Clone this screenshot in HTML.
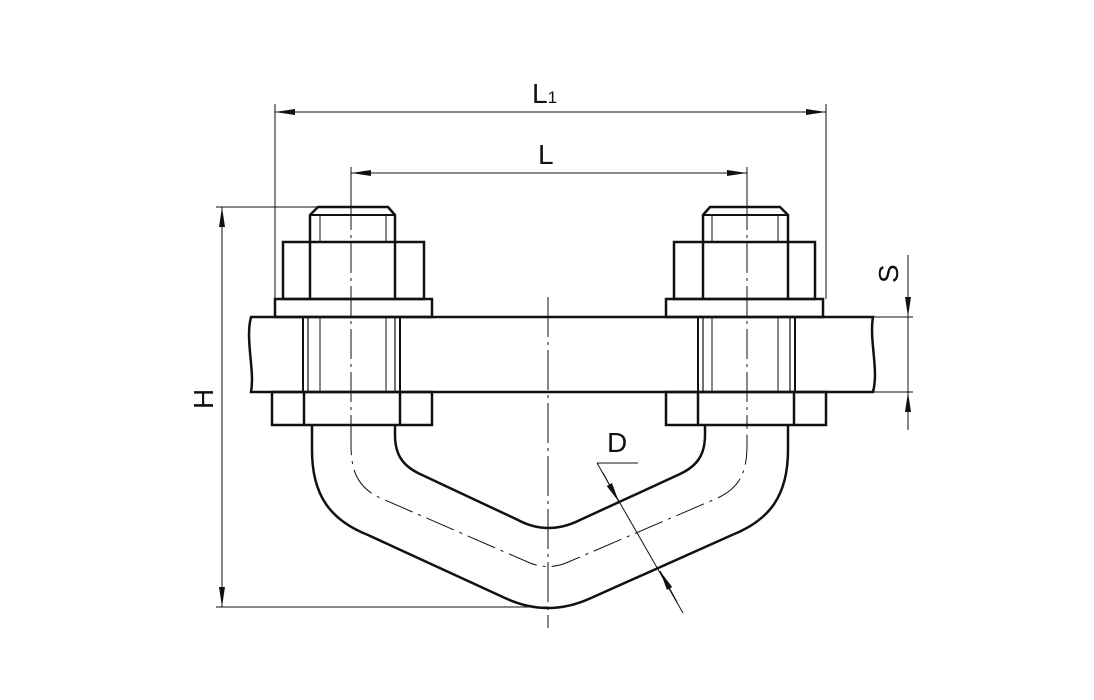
<!DOCTYPE html>
<html><head><meta charset="utf-8"><style>
html,body{margin:0;padding:0;background:#fff;}
svg{display:block}
text{font-family:"Liberation Sans",sans-serif;fill:#111}
</style></head><body>
<svg width="1094" height="700" viewBox="0 0 1094 700" xmlns="http://www.w3.org/2000/svg">
<defs>
<marker id="a" viewBox="0 0 20 8" refX="20" refY="4" markerWidth="20" markerHeight="8" markerUnits="userSpaceOnUse" orient="auto-start-reverse">
<path d="M0,1 L20,4 L0,7 z" fill="#111"/></marker>
<g id="bolt" fill="none" stroke="#111">
<path d="M310,242 L310,215 L318,207 L388,207 L395,215 L395,242" stroke-width="2.5"/>
<line x1="310" y1="215" x2="395" y2="215" stroke-width="2"/>
<line x1="320" y1="215" x2="320" y2="242" stroke-width="1"/>
<line x1="386" y1="215" x2="386" y2="242" stroke-width="1"/>
<rect x="283" y="242" width="141" height="57" stroke-width="2.5"/>
<line x1="310" y1="242" x2="310" y2="299" stroke-width="2.5"/>
<line x1="395" y1="242" x2="395" y2="299" stroke-width="2.5"/>
<rect x="275" y="299" width="157" height="18" stroke-width="2.5"/>
<line x1="303" y1="317" x2="303" y2="392" stroke-width="2"/>
<line x1="308" y1="317" x2="308" y2="392" stroke-width="1.2"/>
<line x1="320" y1="317" x2="320" y2="392" stroke-width="1"/>
<line x1="386" y1="317" x2="386" y2="392" stroke-width="1"/>
<line x1="395" y1="317" x2="395" y2="392" stroke-width="1.2"/>
<line x1="400" y1="317" x2="400" y2="392" stroke-width="2"/>
<rect x="272" y="392" width="160" height="33" stroke-width="2.5"/>
<line x1="304" y1="392" x2="304" y2="425" stroke-width="2.5"/>
<line x1="400" y1="392" x2="400" y2="425" stroke-width="2.5"/>
<line x1="351" y1="200" x2="351" y2="425" stroke-width="1" stroke-dasharray="30,5,3,5"/>
</g>
</defs>
<rect width="1094" height="700" fill="#fff"/>
<path d="M251,317 L873,317 C869,340 879,370 873,392 L251,392 C255,370 245,340 251,317 Z" fill="none" stroke="#111" stroke-width="2.5"/>
<use href="#bolt"/>
<use href="#bolt" transform="translate(1098,0) scale(-1,1)"/>
<path d="M312,425 L312,450 C312,495 330,520 368,535 L505,598 Q548,618 591,598 L732,535 C770,520 788,495 788,450 L788,425" fill="none" stroke="#111" stroke-width="2.5"/>
<path d="M395,425 L395,435 C395,455 403,466 420,474 L518,520 Q548,536 580,520 L680,474 C697,466 705,455 705,435 L705,425" fill="none" stroke="#111" stroke-width="2.5"/>
<path d="M351,425 L351,445 C351,475 360,490 385,500 L530,563 Q548,570 566,563 L713,500 C738,490 747,475 747,445 L747,425" fill="none" stroke="#111" stroke-width="1" stroke-dasharray="30,6,3,6"/>
<line x1="548" y1="297" x2="548" y2="628" stroke="#111" stroke-width="1" stroke-dasharray="40,5,3,5"/>
<line x1="275" y1="104" x2="275" y2="299" stroke="#111" stroke-width="1"/>
<line x1="826" y1="104" x2="826" y2="299" stroke="#111" stroke-width="1"/>
<line x1="275" y1="112" x2="826" y2="112" stroke="#111" stroke-width="1" marker-start="url(#a)" marker-end="url(#a)"/>
<text x="532" y="103" font-size="28">L<tspan font-size="17">1</tspan></text>
<line x1="351" y1="167" x2="351" y2="200" stroke="#111" stroke-width="1"/>
<line x1="747" y1="167" x2="747" y2="200" stroke="#111" stroke-width="1"/>
<line x1="351" y1="173" x2="747" y2="173" stroke="#111" stroke-width="1" marker-start="url(#a)" marker-end="url(#a)"/>
<text x="538" y="164" font-size="28">L</text>
<line x1="216" y1="207" x2="318" y2="207" stroke="#111" stroke-width="1"/>
<line x1="216" y1="607" x2="548" y2="607" stroke="#111" stroke-width="1"/>
<line x1="222" y1="207" x2="222" y2="607" stroke="#111" stroke-width="1" marker-start="url(#a)" marker-end="url(#a)"/>
<text x="0" y="0" font-size="28" transform="translate(213,409) rotate(-90)">H</text>
<line x1="873" y1="317" x2="913" y2="317" stroke="#111" stroke-width="1"/>
<line x1="873" y1="392" x2="913" y2="392" stroke="#111" stroke-width="1"/>
<line x1="908" y1="255" x2="908" y2="317" stroke="#111" stroke-width="1" marker-end="url(#a)"/>
<line x1="908" y1="317" x2="908" y2="392" stroke="#111" stroke-width="1"/>
<line x1="908" y1="430" x2="908" y2="392" stroke="#111" stroke-width="1" marker-end="url(#a)"/>
<text x="0" y="0" font-size="28" transform="translate(898,283) rotate(-90)">S</text>
<line x1="597" y1="463" x2="638" y2="463" stroke="#111" stroke-width="1"/>
<line x1="597" y1="463" x2="683" y2="613" stroke="#111" stroke-width="1"/>
<line x1="603" y1="473" x2="619" y2="502" stroke="#111" stroke-width="1" marker-end="url(#a)"/>
<line x1="677" y1="602" x2="660" y2="571" stroke="#111" stroke-width="1" marker-end="url(#a)"/>
<text x="607" y="452" font-size="28">D</text>
</svg>
</body></html>
